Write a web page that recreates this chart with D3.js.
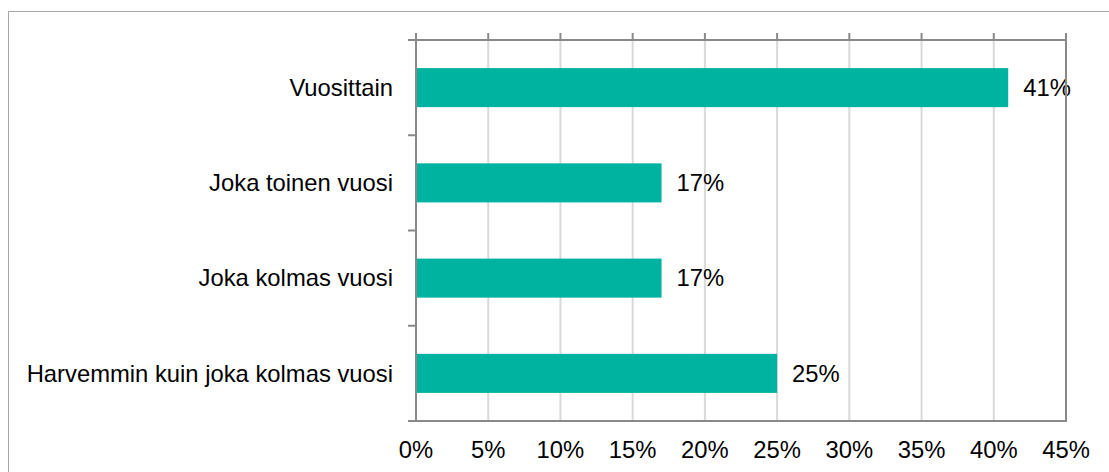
<!DOCTYPE html>
<html>
<head>
<meta charset="utf-8">
<script src="https://cdn.jsdelivr.net/npm/d3@7"></script>
<style>
  html, body { margin: 0; padding: 0; background: #fff; }
  svg { display: block; font-family: "Liberation Sans", Arial, sans-serif; }
</style>
</head>
<body>
<svg id="chart" width="1109" height="472"></svg>
<script>
// Survey answers: how often the activity is done
const categories = ["Vuosittain", "Joka toinen vuosi", "Joka kolmas vuosi", "Harvemmin kuin joka kolmas vuosi"];
const shares = [41, 17, 17, 25];
const tickValues = [0, 5, 10, 15, 20, 25, 30, 35, 40, 45];

const svg = d3.select("#chart");
const W = 1109, H = 472;
const plot = { left: 416, right: 1066, top: 40, bottom: 421 };
const axisColor = "#898989";
const gridColor = "#d9d9d9";
const barColor = "#00b3a0";
const fontSize = 23.8;

// Outer chart frame (top and left edges are visible)
svg.append("path")
  .attr("d", `M8.5,${H} V11.5 H${W}`)
  .attr("fill", "none").attr("stroke", "#a6a6a6").attr("stroke-width", 1);

const x = d3.scaleLinear().domain([0, 45]).range([plot.left, plot.right]);
const y = d3.scaleBand().domain(categories).range([plot.top, plot.bottom]).paddingInner(0.59).paddingOuter(0.295);
const yOuter = d3.scaleBand().domain(categories).range([plot.top, plot.bottom]);

// Vertical gridlines
svg.append("g").selectAll("line")
  .data(tickValues.slice(1, -1))
  .join("line")
  .attr("x1", d => x(d)).attr("x2", d => x(d))
  .attr("y1", plot.top).attr("y2", plot.bottom)
  .attr("stroke", gridColor).attr("stroke-width", 2);

// Bars
svg.append("g").selectAll("rect")
  .data(categories)
  .join("rect")
  .attr("x", x(0))
  .attr("y", d => y(d))
  .attr("width", (d, i) => x(shares[i]) - x(0))
  .attr("height", y.bandwidth())
  .attr("fill", barColor);

// Value labels
svg.append("g").selectAll("text")
  .data(categories)
  .join("text")
  .attr("x", (d, i) => x(shares[i]) + 15)
  .attr("y", d => y(d) + y.bandwidth() / 2)
  .attr("dy", "0.35em")
  .attr("font-size", fontSize)
  .attr("fill", "#000")
  .text((d, i) => shares[i] + "%");

// Plot area border
svg.append("rect")
  .attr("x", plot.left).attr("y", plot.top)
  .attr("width", plot.right - plot.left).attr("height", plot.bottom - plot.top)
  .attr("fill", "none").attr("stroke", axisColor).attr("stroke-width", 2);

// Value axis ticks on the top edge
svg.append("g").selectAll("line")
  .data(tickValues)
  .join("line")
  .attr("x1", d => x(d)).attr("x2", d => x(d))
  .attr("y1", plot.top).attr("y2", plot.top - 7)
  .attr("stroke", axisColor).attr("stroke-width", 2);

// Category boundary ticks on the left edge
const boundaries = categories.map(c => yOuter(c)).concat([plot.bottom]);
svg.append("g").selectAll("line")
  .data(boundaries)
  .join("line")
  .attr("x1", plot.left).attr("x2", plot.left - 8)
  .attr("y1", d => d).attr("y2", d => d)
  .attr("stroke", axisColor).attr("stroke-width", 2);

// Value tick labels below the plot
svg.append("g").selectAll("text")
  .data(tickValues)
  .join("text")
  .attr("x", d => x(d))
  .attr("y", 457.5)
  .attr("text-anchor", "middle")
  .attr("font-size", fontSize)
  .attr("fill", "#000")
  .text(d => d + "%");

// Category labels
svg.append("g").selectAll("text")
  .data(categories)
  .join("text")
  .attr("x", 393)
  .attr("y", d => yOuter(d) + yOuter.bandwidth() / 2)
  .attr("dy", "0.35em")
  .attr("text-anchor", "end")
  .attr("font-size", fontSize)
  .attr("fill", "#000")
  .text(d => d);
</script>
</body>
</html>
